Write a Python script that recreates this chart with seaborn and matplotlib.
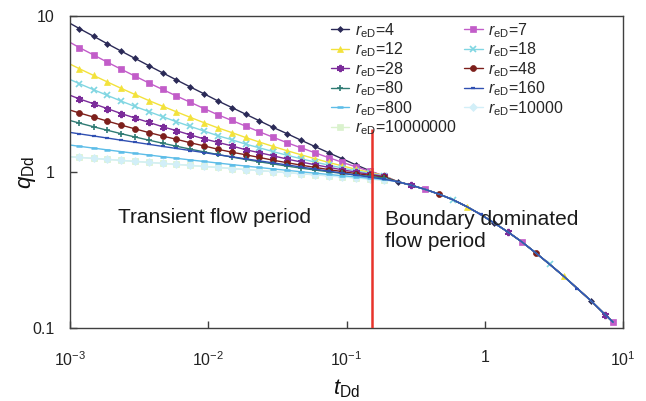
import matplotlib
matplotlib.use("Agg")
import matplotlib.pyplot as plt
import seaborn as sns
import pandas as pd

# ---------------- data ----------------
t_transient = [0.000933, 0.00117, 0.00148, 0.00186, 0.00234, 0.00295, 0.00372, 0.00468,
               0.00589, 0.00741, 0.00933, 0.0117, 0.0148, 0.0186, 0.0234, 0.0295,
               0.0372, 0.0468, 0.0589, 0.0741, 0.0933, 0.117, 0.148, 0.186]
t_boundary = [0.234, 0.295, 0.372, 0.468, 0.589, 0.741, 0.933, 1.17, 1.48,
              1.86, 2.34, 2.95, 3.72, 4.68, 5.89, 7.41, 8.47]
q_boundary = [0.867, 0.822, 0.773, 0.721, 0.664, 0.600, 0.535, 0.471, 0.411,
              0.356, 0.303, 0.256, 0.215, 0.179, 0.149, 0.122, 0.109]

q_reD4 = [9.29, 8.30, 7.42, 6.64, 5.96, 5.35, 4.80, 4.32, 3.89, 3.51, 3.17, 2.86,
          2.59, 2.35, 2.13, 1.93, 1.76, 1.60, 1.458, 1.330, 1.215, 1.111, 1.018, 0.933]
q_reD7 = [7.01, 6.27, 5.63, 5.06, 4.56, 4.12, 3.72, 3.38, 3.07, 2.80, 2.55, 2.33,
          2.14, 1.97, 1.81, 1.67, 1.54, 1.43, 1.33, 1.237, 1.154, 1.079, 1.010, 0.949]
q_reD12 = [5.07, 4.59, 4.16, 3.78, 3.44, 3.14, 2.87, 2.64, 2.43, 2.24, 2.07, 1.92,
           1.79, 1.665, 1.556, 1.458, 1.369, 1.290, 1.218, 1.153, 1.094, 1.041, 0.993, 0.950]
q_reD18 = [4.03, 3.68, 3.37, 3.10, 2.85, 2.63, 2.44, 2.26, 2.10, 1.96, 1.83, 1.71,
           1.61, 1.51, 1.43, 1.35, 1.28, 1.217, 1.159, 1.107, 1.061, 1.018, 0.979, 0.944]
q_reD28 = [3.18, 2.94, 2.74, 2.55, 2.37, 2.22, 2.08, 1.95, 1.84, 1.73, 1.63, 1.55,
           1.47, 1.39, 1.33, 1.27, 1.21, 1.16, 1.114, 1.072, 1.033, 0.998, 0.966, 0.938]
q_reD48 = [2.54, 2.39, 2.25, 2.12, 2.00, 1.89, 1.79, 1.70, 1.62, 1.54, 1.47, 1.40,
           1.34, 1.29, 1.24, 1.19, 1.147, 1.107, 1.071, 1.037, 1.006, 0.978, 0.952, 0.928]
q_reD80 = [2.175, 2.058, 1.950, 1.852, 1.761, 1.677, 1.600, 1.529, 1.463, 1.402, 1.346, 1.295,
           1.247, 1.203, 1.163, 1.126, 1.091, 1.059, 1.030, 1.004, 0.979, 0.957, 0.937, 0.918]
q_reD160 = [1.811, 1.756, 1.702, 1.651, 1.600, 1.552, 1.505, 1.459, 1.415, 1.373, 1.331, 1.291,
            1.252, 1.215, 1.179, 1.144, 1.110, 1.077, 1.045, 1.014, 0.984, 0.955, 0.927, 0.900]
q_reD800 = [1.502, 1.461, 1.423, 1.386, 1.351, 1.317, 1.285, 1.254, 1.224, 1.195, 1.168, 1.142,
            1.116, 1.092, 1.069, 1.046, 1.025, 1.004, 0.984, 0.965, 0.947, 0.930, 0.913, 0.897]
q_reD10000 = [1.259, 1.241, 1.222, 1.205, 1.187, 1.170, 1.152, 1.136, 1.119, 1.102, 1.086, 1.069,
              1.053, 1.037, 1.021, 1.006, 0.990, 0.975, 0.960, 0.945, 0.931, 0.916, 0.902, 0.888]
q_reD10000000 = [1.259, 1.241, 1.222, 1.205, 1.187, 1.170, 1.152, 1.136, 1.119, 1.102, 1.086, 1.069,
                 1.053, 1.037, 1.021, 1.006, 0.990, 0.975, 0.960, 0.945, 0.931, 0.916, 0.902, 0.888]

reD_names = ["4", "7", "12", "18", "28", "48", "80", "160", "800", "10000", "10000000"]
red_line_t = 0.153
red_line_q = [0.1, 1.9]
x_ticks = [0.001, 0.01, 0.1, 1, 10]
x_tick_labels = [r"10$^{-3}$", r"10$^{-2}$", r"10$^{-1}$", "1", r"10$^{1}$"]
y_ticks = [0.1, 1, 10]
y_tick_labels = ["0.1", "1", "10"]

# ---------------- styling ----------------
sns.set_theme(style="ticks")
plt.rcParams["font.family"] = ["Liberation Sans", "DejaVu Sans"]
plt.rcParams["mathtext.fontset"] = "custom"
plt.rcParams["mathtext.rm"] = "Liberation Sans"
plt.rcParams["mathtext.it"] = "Liberation Sans:italic"
plt.rcParams["mathtext.default"] = "regular"

series_q = [q_reD4, q_reD7, q_reD12, q_reD18, q_reD28, q_reD48, q_reD80,
            q_reD160, q_reD800, q_reD10000, q_reD10000000]
styles = {
    "4":        dict(color="#2b2a57", marker="D", ms=3.0, mew=0.5),
    "7":        dict(color="#c25dc9", marker="s", ms=4.3, mew=0.5),
    "12":       dict(color="#f3e23b", marker="^", ms=4.8, mew=0.5),
    "18":       dict(color="#80d6e2", marker="x", ms=4.0, mew=1.2),
    "28":       dict(color="#7b2c9a", marker=(6, 2, 0), ms=5.2, mew=1.4),
    "48":       dict(color="#7d1f1b", marker="o", ms=4.3, mew=0.5),
    "80":       dict(color="#2f7b74", marker="+", ms=5.0, mew=1.2),
    "160":      dict(color="#3050b2", marker="_", ms=3.5, mew=1.6),
    "800":      dict(color="#5dbde8", marker="_", ms=5.0, mew=1.8),
    "10000":    dict(color="#d2eff8", marker="D", ms=4.2, mew=0.5),
    "10000000": dict(color="#daf2cd", marker="s", ms=4.2, mew=0.5),
}

n_tr = len(t_transient)
n_bd = len(t_boundary)
# which series shows the marker at each boundary-dominated point (mixed, as in the reference)
boundary_marker_owner = ["4", "28", "7", "48", "18", "12", "160"]

fig, ax = plt.subplots(figsize=(6.46, 4.01), dpi=100)
fig.subplots_adjust(left=0.1084, right=0.9644, top=0.9601, bottom=0.182)

handles = {}
draw_order = ["10000000", "10000", "4", "7", "12", "18", "28", "48", "80", "800", "160"]
for name in draw_order:
    q = series_q[reD_names.index(name)]
    df = pd.DataFrame({"t": t_transient + t_boundary, "q": q + q_boundary})
    st = styles[name]
    mk = list(range(n_tr)) + [n_tr + j for j in range(n_bd)
                              if boundary_marker_owner[j % len(boundary_marker_owner)] == name]
    sns.lineplot(data=df, x="t", y="q", ax=ax, estimator=None, sort=False,
                 color=st["color"], marker=st["marker"], markersize=st["ms"],
                 markeredgewidth=st["mew"], markeredgecolor=st["color"],
                 markerfacecolor=st["color"], linewidth=1.0, markevery=mk,
                 label=r"$\mathit{r}_{\mathrm{eD}}$=" + name)
    handles[name] = ax.get_lines()[-1]

ax.vlines(red_line_t, red_line_q[0], red_line_q[1], color="#e8332a", linewidth=1.8, zorder=5)

ax.set_xscale("log")
ax.set_yscale("log")
ax.set_xlim(1e-3, 10)
ax.set_ylim(0.1, 10)
ax.set_xticks(x_ticks)
ax.set_xticklabels(x_tick_labels)
ax.set_yticks(y_ticks)
ax.set_yticklabels(y_tick_labels)
ax.minorticks_off()
ax.tick_params(axis="both", direction="in", length=5, width=1, color="#404040",
               labelsize=11.5, labelcolor="#222222")
ax.tick_params(axis="x", pad=16)
ax.tick_params(axis="y", pad=11)
for sp in ax.spines.values():
    sp.set_visible(True)
    sp.set_color("#404040")
    sp.set_linewidth(1.0)

ax.set_xlabel(r"$\mathit{t}_{\mathrm{Dd}}$", fontsize=16, labelpad=6, color="#111111")
ax.set_ylabel(r"$\mathit{q}_{\mathrm{Dd}}$", fontsize=16, labelpad=-4, color="#111111")

ax.text(0.087, 0.353, "Transient flow period", transform=ax.transAxes,
        fontsize=15, ha="left", va="center", color="#1a1a1a")
ax.text(0.570, 0.3125, "Boundary dominated\nflow period", transform=ax.transAxes,
        fontsize=15, ha="left", va="center", color="#1a1a1a", linespacing=1.15)

col1 = ["4", "12", "28", "80", "800", "10000000"]
col2 = ["7", "18", "48", "160", "10000"]
order = col1 + col2
leg = ax.legend([handles[n] for n in order], [r"$\mathit{r}_{\mathrm{eD}}$=" + n for n in order],
                ncol=2, frameon=False, loc="upper left", bbox_to_anchor=(0.472, 0.984),
                fontsize=11.5, handlelength=1.15, handletextpad=0.35, columnspacing=0.45,
                labelspacing=0.05, borderpad=0.0, borderaxespad=0.0, numpoints=1)
for lh in leg.legend_handles:
    lh.set_markevery([1])

fig.savefig("out.png", dpi=100)
